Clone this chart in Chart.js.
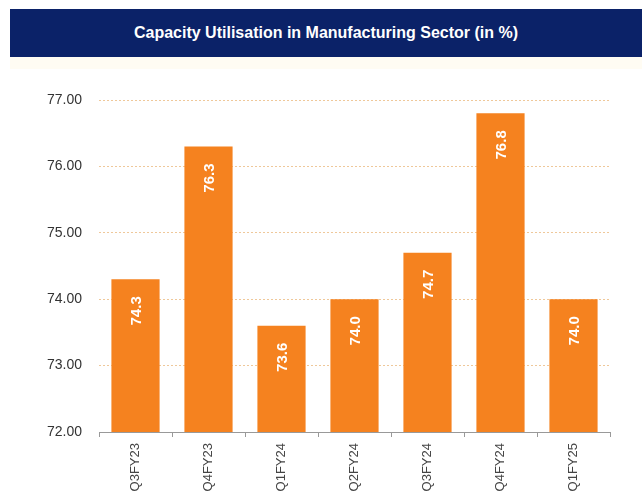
<!DOCTYPE html>
<html>
<head>
<meta charset="utf-8">
<script src="https://cdn.jsdelivr.net/npm/chart.js@4"></script>
<style>
  html, body { margin: 0; padding: 0; background: #fff; }
  #wrap { position: relative; width: 642px; height: 500px; overflow: hidden; }
  #banner {
    position: absolute; left: 10px; top: 9px; width: 632px; height: 48px;
    background: #0b2268; color: #fff;
    font: bold 16px "Liberation Sans", Arial, sans-serif;
    display: flex; align-items: center; justify-content: center;
  }
  #strip { position: absolute; left: 10px; top: 57px; width: 632px; height: 12px; background: #fffcf3; }
  canvas { position: absolute; left: 0; top: 0; }
</style>
</head>
<body>
<div id="wrap">
  <canvas id="cu-chart" width="642" height="500"></canvas>
  <div id="banner">Capacity Utilisation in Manufacturing Sector (in %)</div>
  <div id="strip"></div>
</div>
<script>
const quarters = ['Q3FY23', 'Q4FY23', 'Q1FY24', 'Q2FY24', 'Q3FY24', 'Q4FY24', 'Q1FY25'];
const utilisation = [74.3, 76.3, 73.6, 74.0, 74.7, 76.8, 74.0];
const yTicks = [72, 73, 74, 75, 76, 77];

const ORANGE = '#f5821f';

// white rotated value labels inside the top of each bar
const barLabels = {
  id: 'barLabels',
  afterDatasetsDraw(chart) {
    const ctx = chart.ctx;
    const meta = chart.getDatasetMeta(0);
    ctx.save();
    ctx.fillStyle = '#fff';
    ctx.font = 'bold 15px "Liberation Sans", Arial, sans-serif';
    ctx.textAlign = 'right';
    ctx.textBaseline = 'middle';
    meta.data.forEach((bar, i) => {
      ctx.save();
      ctx.translate(bar.x, bar.y + 17);
      ctx.rotate(-Math.PI / 2);
      ctx.fillText(utilisation[i].toFixed(1), 0, 1);
      ctx.restore();
    });
    ctx.restore();
  }
};

new Chart(document.getElementById('cu-chart'), {
  type: 'bar',
  data: {
    labels: quarters,
    datasets: [{
      data: utilisation,
      backgroundColor: ORANGE,
      borderWidth: 0,
      barPercentage: 0.66,
      categoryPercentage: 1
    }]
  },
  options: {
    responsive: false,
    animation: false,
    layout: { padding: { left: 0, right: 32, top: 100, bottom: 0 } },
    plugins: { legend: { display: false }, tooltip: { enabled: false } },
    scales: {
      y: {
        min: 72,
        max: 77,
        afterFit: s => { s.width = 99; },
        afterBuildTicks: s => { s.ticks = yTicks.map(v => ({ value: v })); },
        ticks: {
          padding: 17,
          color: '#333',
          font: { family: '"Liberation Sans", Arial, sans-serif', size: 14 },
          callback: v => v.toFixed(2)
        },
        border: { display: false, dash: [2, 2] },
        grid: {
          drawTicks: false,
          color: ctx => ctx.tick && ctx.tick.value === 72 ? 'rgba(0,0,0,0)' : '#efc89a',
          lineWidth: 1
        }
      },
      x: {
        afterFit: s => { s.height = 68; },
        ticks: {
          minRotation: 90,
          maxRotation: 90,
          padding: 6,
          color: '#444',
          font: { family: '"Liberation Sans", Arial, sans-serif', size: 13 }
        },
        border: { display: true, color: '#999', width: 1 },
        grid: {
          offset: true,
          drawOnChartArea: false,
          drawTicks: true,
          tickLength: 5,
          color: '#999'
        }
      }
    }
  },
  plugins: [barLabels]
});
</script>
</body>
</html>
